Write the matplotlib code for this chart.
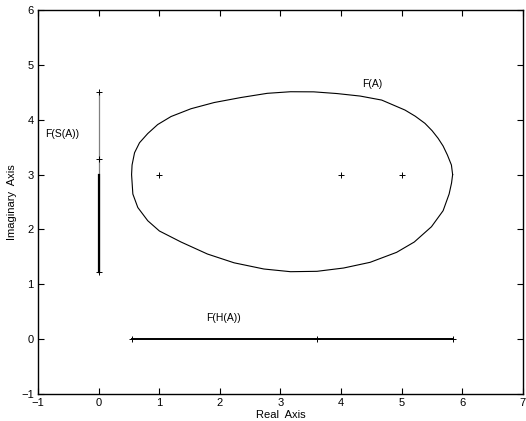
import matplotlib
matplotlib.use("Agg")
import matplotlib.pyplot as plt
import numpy as np

plt.rcParams['font.family'] = ['Liberation Sans', 'DejaVu Sans']

# boundary of F(A) (counter-clockwise from the right end)
fa_re = [5.84, 5.82, 5.754, 5.683, 5.601, 5.502, 5.383, 5.223, 5.054, 4.862,
         4.670, 4.315, 3.931, 3.548, 3.166, 2.782, 2.345, 1.906, 1.524, 1.195,
         0.975, 0.811, 0.675, 0.593, 0.552, 0.544,
         0.565, 0.647, 0.811, 1.003, 1.360, 1.796, 2.235, 2.727, 3.166, 3.603,
         4.041, 4.479, 4.916, 5.207, 5.491, 5.683, 5.782, 5.822, 5.84]
fa_im = [3.00, 3.175, 3.357, 3.521, 3.661, 3.80, 3.935, 4.065, 4.177, 4.268,
         4.359, 4.432, 4.478, 4.509, 4.511, 4.482, 4.405, 4.314, 4.201, 4.059,
         3.913, 3.749, 3.581, 3.399, 3.175, 3.00,
         2.646, 2.400, 2.159, 1.972, 1.771, 1.552, 1.392, 1.279, 1.230, 1.237,
         1.297, 1.401, 1.583, 1.771, 2.050, 2.342, 2.646, 2.846, 3.00]

# eigenvalues
eig_re = [1, 4, 5]
eig_im = [3, 3, 3]

# F(S(A)) on the imaginary axis
fs_im = [1.22, 3.28, 4.5]
fs_thick = [1.22, 3.0]

# F(H(A)) on the real axis
fh_re = [0.55, 3.6, 5.85]

fig = plt.figure(figsize=(5.26, 4.21), dpi=100)
ax = fig.add_axes([0.0722, 0.0641, 0.922, 0.912])

ax.plot(fa_re, fa_im, color='black', lw=0.8, solid_joinstyle='round')
ax.plot(eig_re, eig_im, '+', color='black', ms=5, mew=0.7)

ax.plot([0] * len(fs_im), fs_im, color='#808080', lw=0.9)
ax.plot([0, 0], fs_thick, color='black', lw=1.6)
ax.plot([0] * len(fs_im), fs_im, '+', color='black', ms=5, mew=0.7)

ax.plot(fh_re, [0] * len(fh_re), color='black', lw=1.4)
ax.plot(fh_re, [0] * len(fh_re), '+', color='black', ms=5, mew=0.7)

ax.text(-0.885, 3.74, 'F(S(A))', fontsize=7.5, ha='left', va='center')
ax.text(4.35, 4.645, 'F(A)', fontsize=7.5, ha='left', va='center')
ax.text(1.77, 0.38, 'F(H(A))', fontsize=7.5, ha='left', va='center')

ax.set_xlim(-1, 7)
ax.set_ylim(-1, 6)
ax.set_xticks(np.arange(-1, 8))
ax.set_yticks(np.arange(-1, 7))
ax.tick_params(direction='in', length=4, width=0.8, top=True, right=True,
               labelsize=8, pad=3)
for s in ax.spines.values():
    s.set_linewidth(1.0)
ax.set_xlabel('Real  Axis', fontsize=8, labelpad=1)
ax.set_ylabel('Imaginary  Axis', fontsize=8, labelpad=3)

fig.savefig('out.png', dpi=100)
